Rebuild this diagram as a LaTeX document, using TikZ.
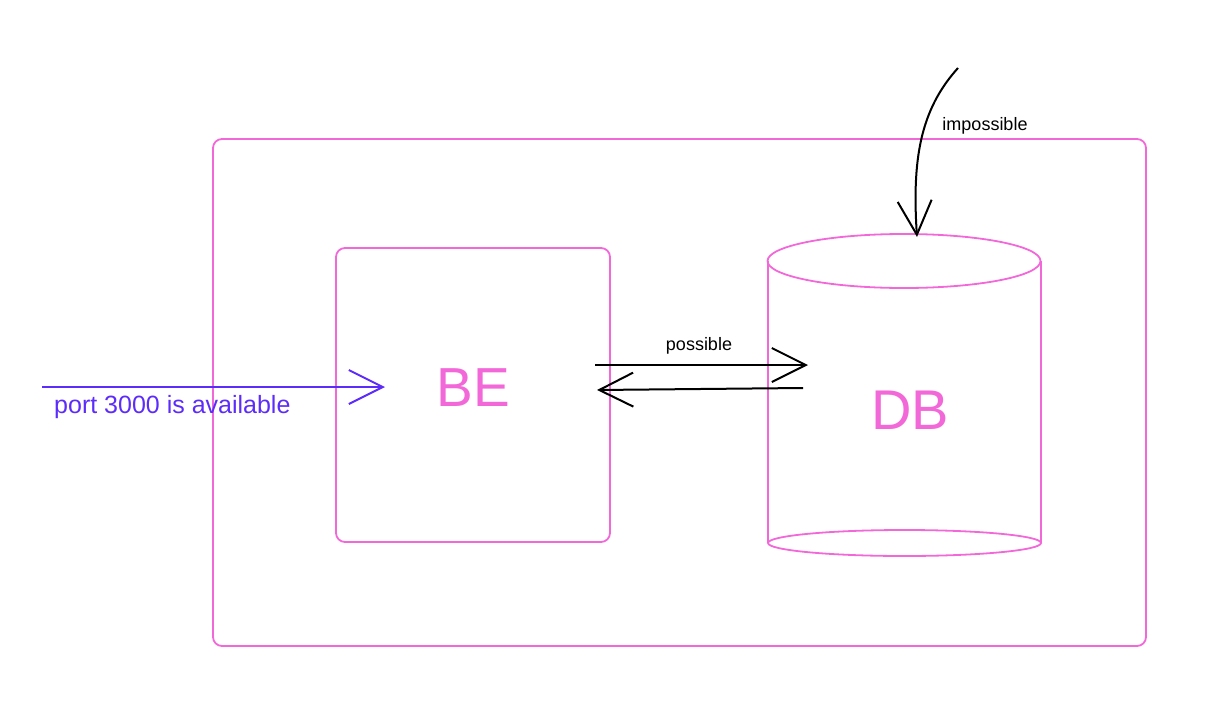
\documentclass[tikz,border=0pt]{standalone}
\usepackage{fontspec}
\setmainfont{Liberation Sans}
\usetikzlibrary{arrows.meta}
\definecolor{pinkc}{RGB}{243,104,216}
\definecolor{purpc}{RGB}{92,44,250}
\tikzset{
  pinkline/.style={draw=pinkc, line width=1.8pt},
  blackarrow/.style={draw=black, line width=2pt, -{Straight Barb[length=34pt,width=34pt,line width=2pt]}},
  purparrow/.style={draw=purpc, line width=2pt, -{Straight Barb[length=34pt,width=34pt,line width=2pt]}},
  lbl/.style={inner sep=0pt, font=\fontsize{18}{20}\selectfont},
}
\begin{document}
\begin{tikzpicture}[x=1pt,y=-1pt]
\useasboundingbox (0,0) rectangle (1229,707);
% outer box
\draw[pinkline, rounded corners=9pt] (213,139) rectangle (1146,646);
% BE box
\draw[pinkline, rounded corners=9pt] (336,248) rectangle (610,542);
\node[text=pinkc, inner sep=0pt, font=\fontsize{55}{60}\selectfont] (be) at (473,388) {BE};
% DB cylinder
\draw[pinkline] (904,261) ellipse [x radius=136.5pt, y radius=27pt];
\draw[pinkline] (768,261) -- (768,543);
\draw[pinkline] (1041,261) -- (1041,543);
\draw[pinkline] (904.5,543) ellipse [x radius=136.5pt, y radius=13pt];
\node[text=pinkc, inner sep=0pt, font=\fontsize{56}{60}\selectfont] (db) at (910,410) {DB};
% port arrow
\coordinate (pstart) at (42,387);
\coordinate (pend) at (385,387);
\draw[purparrow] (pstart) -- (pend);
\node[text=purpc, anchor=west, inner sep=0pt, font=\fontsize{25}{27}\selectfont] (port) at (54,407) {port 3000 is available};
% possible arrows
\coordinate (a1) at (595,365);
\coordinate (a2) at (808,365);
\coordinate (b1) at (803,388);
\coordinate (b2) at (597,390);
\draw[blackarrow] (a1) -- (a2);
\draw[blackarrow] (b1) -- (b2);
\node[lbl] (poss) at (699,346) {possible};
% impossible arrow
\coordinate (i1) at (958,68);
\coordinate (i2) at (917,237);
\draw[blackarrow] (i1) .. controls (920,110) and (912,160) .. (i2);
\node[lbl] (imp) at (985,126) {impossible};
\end{tikzpicture}
\end{document}
